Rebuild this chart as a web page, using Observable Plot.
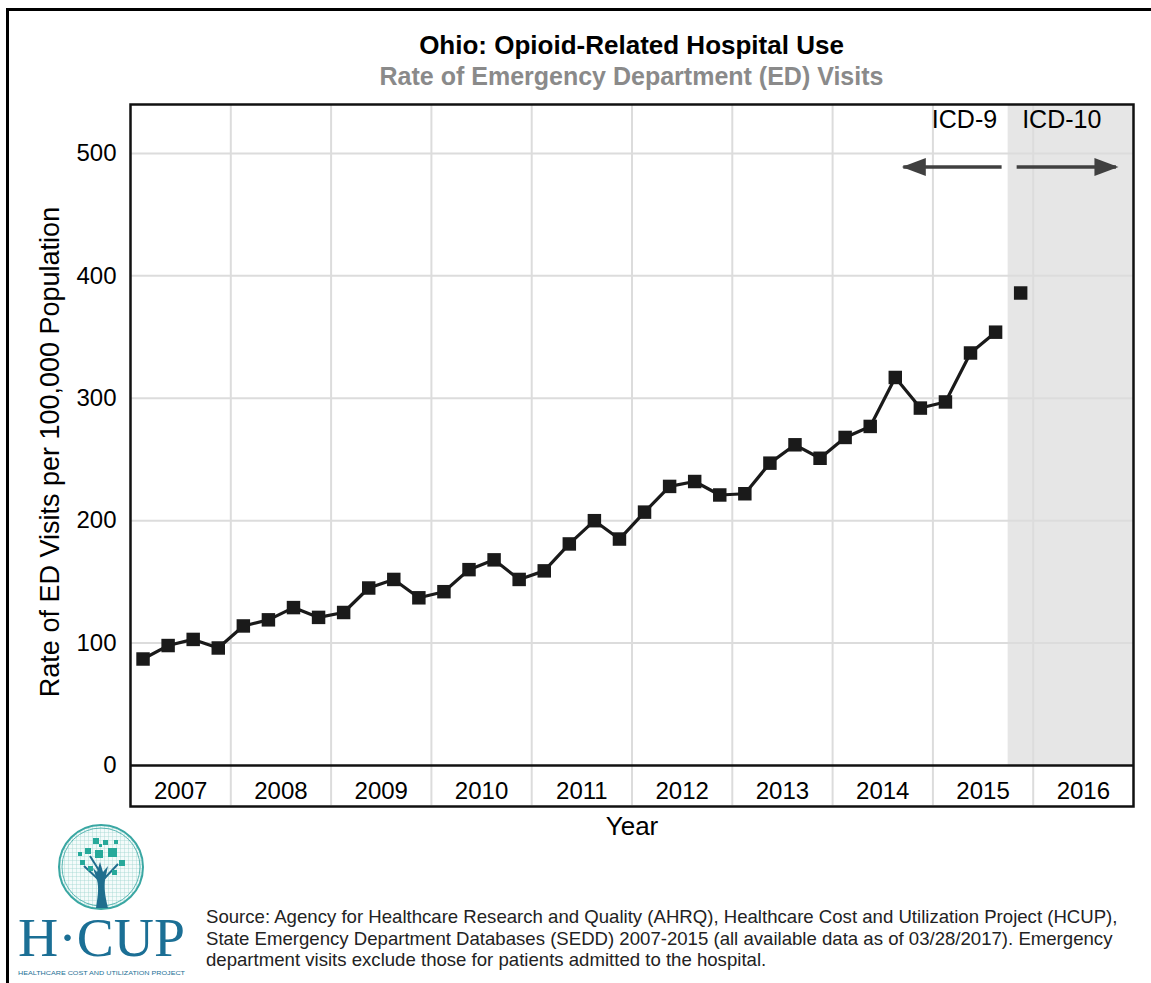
<!DOCTYPE html>
<html>
<head>
<meta charset="utf-8">
<script src="https://cdn.jsdelivr.net/npm/d3@7"></script>
<script src="https://cdn.jsdelivr.net/npm/@observablehq/plot@0.6"></script>
<style>
  html, body { margin: 0; padding: 0; background: #fff; }
  body { width: 1151px; height: 983px; position: relative; overflow: hidden; font-family: "Liberation Sans", Arial, sans-serif; }
  #border { position: absolute; left: 6px; top: 8px; width: 1160px; height: 1000px; border-left: 3px solid #000; border-top: 3px solid #000; }
  .title { position: absolute; left: 130px; width: 1003px; text-align: center; font-weight: bold; line-height: 30px; }
  #t1 { top: 30px; font-size: 26px; color: #000; }
  #t2 { top: 61px; font-size: 25px; color: #8a8a8a; }
  #chart { position: absolute; left: 0; top: 90px; }
  #caption { position: absolute; left: 206px; top: 906px; font-size: 18.6px; line-height: 21.5px; color: #222; white-space: nowrap; }
  #logo { position: absolute; left: 0; top: 815px; }
</style>
</head>
<body>
<div id="border"></div>
<div class="title" id="t1">Ohio: Opioid-Related Hospital Use</div>
<div class="title" id="t2">Rate of Emergency Department (ED) Visits</div>
<div id="chart"></div>
<svg id="logo" width="200" height="165" viewBox="0 815 200 165">
  <defs>
    <pattern id="grid" width="4" height="4" patternUnits="userSpaceOnUse">
      <rect width="4" height="4" fill="#f4fbfa"/>
      <path d="M0 0H4M0 0V4" stroke="#9fd6d0" stroke-width="0.8"/>
    </pattern>
  </defs>
  <circle cx="101" cy="867" r="42" fill="url(#grid)" stroke="#3aa7a3" stroke-width="2"/>
  <circle cx="101" cy="867" r="39" fill="none" stroke="#3aa7a3" stroke-width="0.8"/>
  <path d="M96 908 C98 895 99 888 97 880 L93 868 L97 872 L100 862 L103 872 L108 866 L105 880 C104 888 105 896 108 908 Z" fill="#1f6e8e"/>
  <path d="M99 880 L84 866 M103 880 L118 864 M100 872 L90 856" stroke="#1f6e8e" stroke-width="2" fill="none"/>
  <g fill="#26a99a">
    <rect x="93" y="838" width="6" height="6"/><rect x="103" y="840" width="5" height="5"/>
    <rect x="85" y="848" width="6" height="6"/><rect x="95" y="850" width="8" height="8"/>
    <rect x="108" y="848" width="9" height="9"/><rect x="80" y="860" width="5" height="5"/>
    <rect x="119" y="860" width="6" height="6"/><rect x="88" y="866" width="5" height="5"/>
    <rect x="112" y="870" width="5" height="5"/><rect x="99" y="844" width="3" height="3"/>
    <rect x="114" y="840" width="4" height="4"/><rect x="78" y="852" width="4" height="4"/>
  </g>
  <text x="18" y="956" font-family="Liberation Serif, DejaVu Serif, serif" font-size="54" fill="#1b6f95" textLength="167" lengthAdjust="spacingAndGlyphs">H·CUP</text>
  <text x="18" y="975" font-family="Liberation Sans, Arial, sans-serif" font-size="6" fill="#1b6f95" textLength="167" lengthAdjust="spacingAndGlyphs">HEALTHCARE COST AND UTILIZATION PROJECT</text>
</svg>
<div id="caption">Source: Agency for Healthcare Research and Quality (AHRQ), Healthcare Cost and Utilization Project (HCUP),<br>State Emergency Department Databases (SEDD) 2007-2015 (all available data as of 03/28/2017). Emergency<br>department visits exclude those for patients admitted to the hospital.</div>
<script>
// ---- Data ----
const years = [2007, 2008, 2009, 2010, 2011, 2012, 2013, 2014, 2015, 2016];
// Quarterly rates, 2007 Q1 .. 2015 Q3 (ICD-9-CM coding)
const rateICD9 = [
  87, 98, 103, 96,
  114, 119, 129, 121,
  125, 145, 152, 137,
  142, 160, 168, 152,
  159, 181, 200, 185,
  207, 228, 232, 221,
  222, 247, 262, 251,
  268, 277, 317, 292,
  297, 337, 354
];
// Quarterly rates from 2015 Q4 (ICD-10-CM coding)
const rateICD10 = [386];
const yTicks = [0, 100, 200, 300, 400, 500];
const codingLabels = ["ICD-9", "ICD-10"];
const yLabel = "Rate of ED Visits per 100,000 Population";
const xLabel = "Year";

// ---- Build tables ----
const firstYear = years[0];
const lastYear = years[years.length - 1] + 1;
const quarterPos = i => firstYear + (i + 0.5) / 4;
const icd9 = rateICD9.map((v, i) => ({t: quarterPos(i), v}));
const icd10 = rateICD10.map((v, i) => ({t: quarterPos(rateICD9.length + i), v}));
const switchPoint = firstYear + rateICD9.length / 4;
const boundaries = years.slice(1);

const ink = "#1a1a1a";
const arrowInk = "#404040";
const arrowY = 489, labelY = 527;

const headLeft = {draw(ctx) { ctx.moveTo(0, 0); ctx.lineTo(24, -9); ctx.lineTo(24, 9); ctx.closePath(); }};
const headRight = {draw(ctx) { ctx.moveTo(0, 0); ctx.lineTo(-24, -9); ctx.lineTo(-24, 9); ctx.closePath(); }};
const arrows = [
  {x1: switchPoint - 1.04, x2: switchPoint - 0.06, tip: switchPoint - 1.06, head: headLeft},
  {x1: switchPoint + 0.09, x2: switchPoint + 1.08, tip: switchPoint + 1.10, head: headRight}
];

const chart = Plot.plot({
  width: 1151,
  height: 760,
  marginTop: 14,
  marginBottom: 85,
  marginLeft: 130,
  marginRight: 18,
  style: {fontFamily: "'Liberation Sans', Arial, sans-serif", fontSize: "24px", color: "#000", background: "transparent"},
  x: {domain: [firstYear, lastYear], axis: null},
  y: {domain: [0, 540], ticks: yTicks, tickSize: 0, tickPadding: 14, label: null},
  marks: [
    Plot.rect([0], {x1: switchPoint, x2: lastYear, fill: "#e6e6e6"}),
    Plot.ruleY(yTicks.filter(d => d > 0), {stroke: "#dcdcdc", strokeWidth: 2}),
    Plot.ruleX(boundaries, {stroke: "#dcdcdc", strokeWidth: 2, insetBottom: -40}),
    Plot.ruleY(arrows, {y: () => arrowY, x1: "x1", x2: "x2", stroke: arrowInk, strokeWidth: 3.5}),
    Plot.dot(arrows, {x: "tip", y: () => arrowY, symbol: d => d.head, r: 5, fill: arrowInk, stroke: "none"}),
    Plot.text([codingLabels[0]], {text: d => d, x: () => switchPoint, y: () => labelY, dx: -11, textAnchor: "end", fontSize: 25}),
    Plot.text([codingLabels[1]], {text: d => d, x: () => switchPoint, y: () => labelY, dx: 14, textAnchor: "start", fontSize: 25}),
    Plot.line(icd9, {x: "t", y: "v", stroke: ink, strokeWidth: 3.2}),
    Plot.dot(icd9, {x: "t", y: "v", symbol: "square", r: 7.6, fill: ink, stroke: "none"}),
    Plot.dot(icd10, {x: "t", y: "v", symbol: "square", r: 7.6, fill: ink, stroke: "none"}),
    Plot.ruleY([0], {stroke: "#111", strokeWidth: 2.5}),
    Plot.frame({stroke: "#111", strokeWidth: 2.5, insetBottom: -41}),
    Plot.axisY({ticks: yTicks, tickSize: 0, tickPadding: 14, fontSize: 24, label: null}),
    Plot.text(years, {text: d => String(d), x: d => d + 0.5, frameAnchor: "bottom", dy: 33, fontSize: 24}),
    Plot.text([xLabel], {text: d => d, frameAnchor: "bottom", dy: 69, fontSize: 26}),
    Plot.text([yLabel], {text: d => d, frameAnchor: "left", textAnchor: "middle", dx: -80, dy: 17, rotate: -90, fontSize: 27})
  ]
});
document.getElementById("chart").appendChild(chart);
</script>
</body>
</html>
